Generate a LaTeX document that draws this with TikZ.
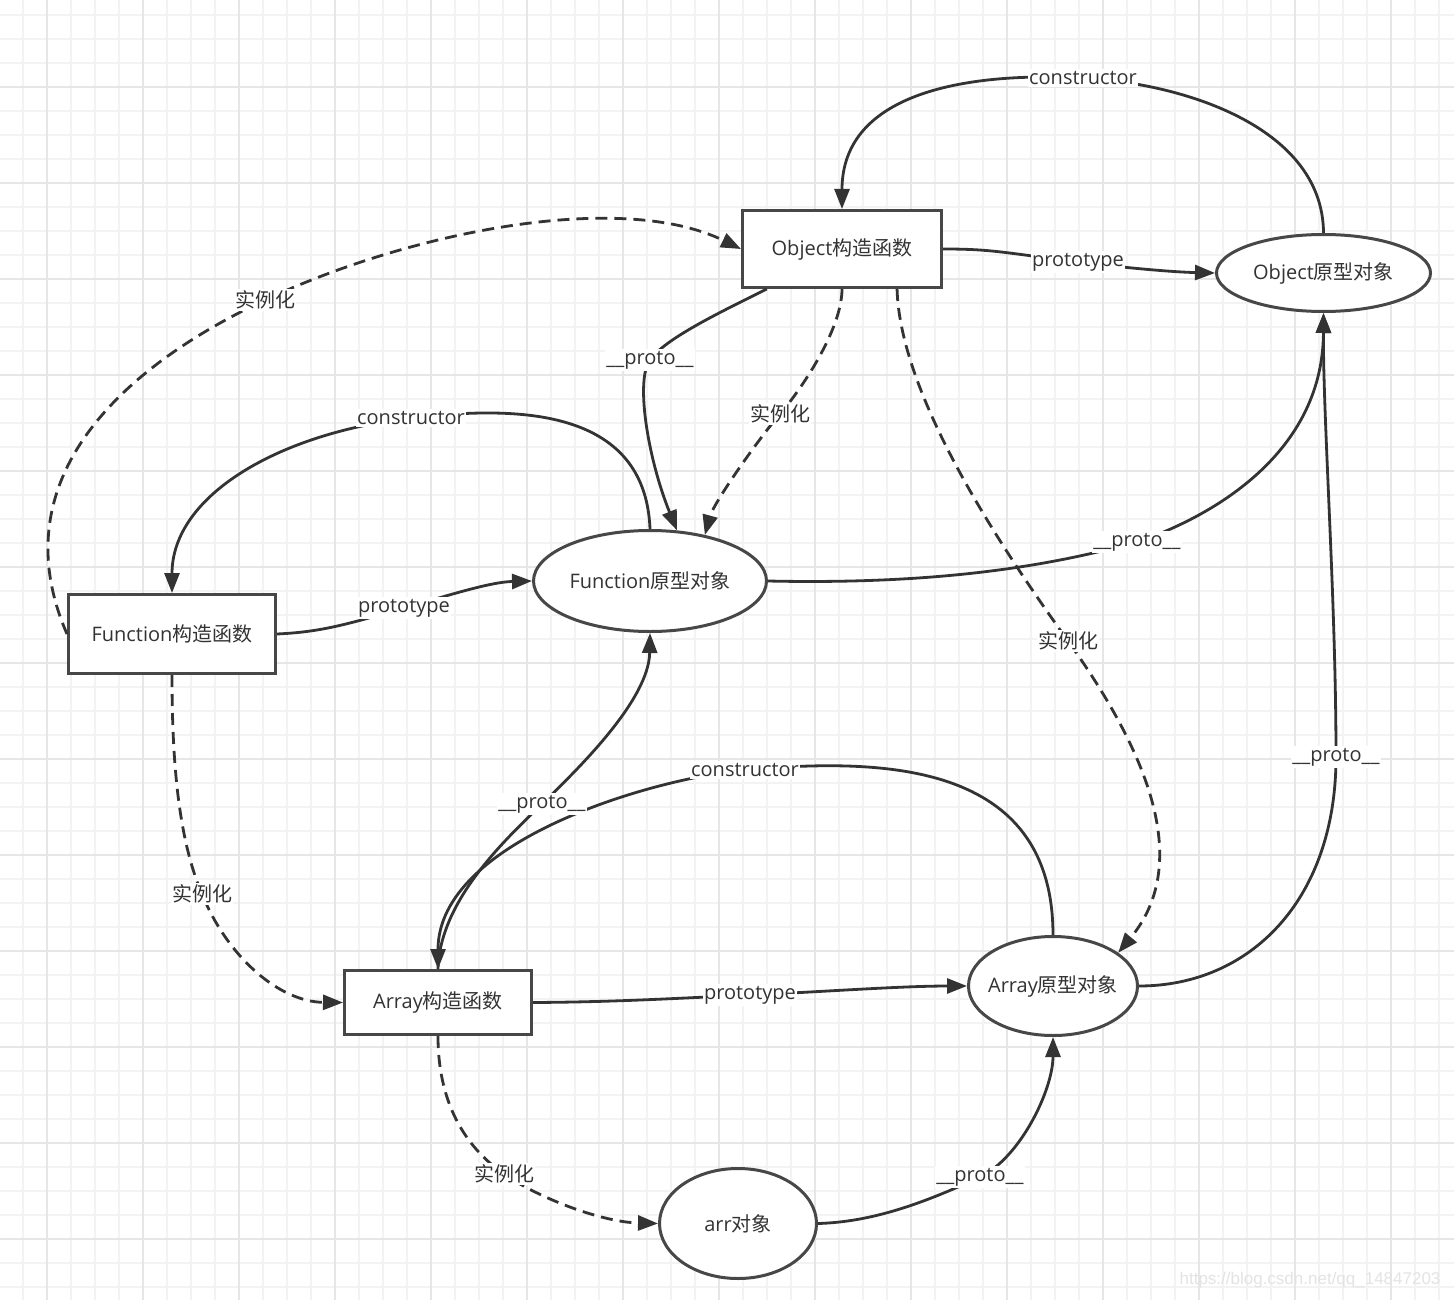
\documentclass[tikz,border=0pt]{standalone}
\usepackage{fontspec}
\setmainfont{Open Sans}
\newfontfamily\cjk{Noto Sans CJK SC}
\newfontfamily\wmark{Liberation Sans}
\usetikzlibrary{arrows.meta, shapes.geometric}

\definecolor{ink}{HTML}{333333}
\definecolor{gridlo}{HTML}{F3F3F3}
\definecolor{gridhi}{HTML}{E6E6E6}

\newcommand{\zh}[1]{{\cjk #1}}

\tikzset{
  cbox/.style={rectangle, draw=ink!90, line width=3pt, fill=white, inner sep=0pt,
    text=ink, font=\fontsize{20pt}{24pt}\selectfont},
  pobj/.style={ellipse, draw=ink!90, line width=3pt, fill=white, inner xsep=-20pt, inner ysep=0pt,
    text=ink, font=\fontsize{20pt}{24pt}\selectfont},
  tag/.style={fill=white, text=ink, inner xsep=1pt, inner ysep=2pt,
    font=\fontsize{20pt}{24pt}\selectfont},
  solidlink/.style={draw=ink, line width=2.8pt, -{Triangle[length=20pt,width=15pt]}},
  dashlink/.style={solidlink, dash pattern=on 12pt off 7pt},
}

\begin{document}
\begin{tikzpicture}[x=1pt, y=-1pt]
  \useasboundingbox (0,0) rectangle (1454,1300);
  \fill[white] (0,0) rectangle (1454,1300);

  % grid
  \foreach \gx in {23,47,...,1454} \draw[gridlo, line width=1.5pt] (\gx,0) -- (\gx,1300);
  \foreach \gy in {15,39,...,1300} \draw[gridlo, line width=1.5pt] (0,\gy) -- (1454,\gy);
  \foreach \gx in {47,143,...,1454} \draw[gridhi, line width=1.5pt] (\gx,0) -- (\gx,1300);
  \foreach \gy in {87,183,...,1300} \draw[gridhi, line width=1.5pt] (0,\gy) -- (1454,\gy);

  % constructors and prototypes
  \node[cbox, minimum width=199pt, minimum height=77pt] (objC) at (842,249) {Object\zh{构造函数}};
  \node[pobj, minimum width=214pt, minimum height=77pt] (objP) at (1323.5,273) {Object\zh{原型对象}};
  \node[pobj, minimum width=233pt, minimum height=101pt] (funP) at (650,581) {Function\zh{原型对象}};
  \node[cbox, minimum width=207pt, minimum height=79pt] (funC) at (172,634) {Function\zh{构造函数}};
  \node[cbox, minimum width=187pt, minimum height=64pt] (arrC) at (438,1002.5) {Array\zh{构造函数}};
  \node[pobj, minimum width=169pt, minimum height=99pt] (arrP) at (1053,986) {Array\zh{原型对象}};
  \node[pobj, minimum width=157pt, minimum height=110pt] (arrO) at (738,1223.5) {arr\zh{对象}};

  % Object
  \draw[solidlink] (objP.north) .. controls (1323,130) and (1190,84) .. (1083,78) node[tag]{constructor}
    .. controls (973,72) and (842,90) .. (objC.north);
  \draw[solidlink] (objC.east) .. controls (990,249) and (1000,252) .. (1078,262) node[tag]{prototype}
    .. controls (1118,267) and (1170,272) .. (objP.west);
  \draw[dashlink] (funC.west) .. controls (0,480) and (120,368) .. (265,300) node[tag]{\zh{实例化}}
    .. controls (410,232) and (620,190) .. (objC.west);
  \draw[solidlink] (objC.208) .. controls (727,309) and (665,338) .. (650,360) node[tag]{\_\_proto\_\_}
    .. controls (635,380) and (648,459) .. (funP.62);
  \draw[dashlink] (objC.south) .. controls (842,330) and (800,391) .. (780,414) node[tag]{\zh{实例化}}
    .. controls (760,437) and (714,502) .. (funP.40);
  \draw[dashlink] (objC.-36) .. controls (900,400) and (1010,560) .. (1068,641) node[tag]{\zh{实例化}}
    .. controls (1143,746) and (1195,860) .. (arrP.27);

  % Function
  \draw[solidlink] (funP.north) .. controls (645,400) and (500,408) .. (411,418) node[tag]{constructor}
    .. controls (280,433) and (172,495) .. (funC.north);
  \draw[solidlink] (funC.east) .. controls (320,632) and (345,625) .. (404,608) node[tag]{prototype}
    .. controls (450,595) and (490,582) .. (funP.west);
  \draw[solidlink] (funP.east) .. controls (950,585) and (1060,563) .. (1137,542) node[tag]{\_\_proto\_\_}
    .. controls (1200,521) and (1323,460) .. (objP.south);
  \draw[dashlink] (funC.south) .. controls (172,760) and (178,838) .. (202,894) node[tag]{\zh{实例化}}
    .. controls (228,958) and (280,1002) .. (arrC.west);

  % Array
  \draw[solidlink] (arrP.north) .. controls (1053,760) and (880,758) .. (745,770) node[tag]{constructor}
    .. controls (655,778) and (438,840) .. (arrC.north);
  \draw[solidlink] (arrC.north) .. controls (440,900) and (506,839) .. (542,804) node[tag]{\_\_proto\_\_}
    .. controls (578,769) and (649,700) .. (funP.south);
  \draw[solidlink] (arrC.east) .. controls (620,1002) and (680,998) .. (750,995) node[tag]{prototype}
    .. controls (820,992) and (900,986) .. (arrP.west);
  \draw[solidlink] (arrP.east) .. controls (1250,986) and (1336,900) .. (1336,757) node[tag]{\_\_proto\_\_}
    .. controls (1336,600) and (1323,420) .. (objP.south);
  \draw[dashlink] (arrC.south) .. controls (438,1110) and (471,1151) .. (504,1174) node[tag]{\zh{实例化}}
    .. controls (537,1197) and (600,1222) .. (arrO.west);
  \draw[solidlink] (arrO.east) .. controls (870,1222) and (920,1205) .. (980,1177) node[tag]{\_\_proto\_\_}
    .. controls (1020,1158) and (1053,1090) .. (arrP.south);

  \node[anchor=east, text=gray!22, font=\wmark\fontsize{17pt}{20pt}\selectfont] (wm) at (1444,1280)
    {https://blog.csdn.net/qq\_14847203};
\end{tikzpicture}
\end{document}
